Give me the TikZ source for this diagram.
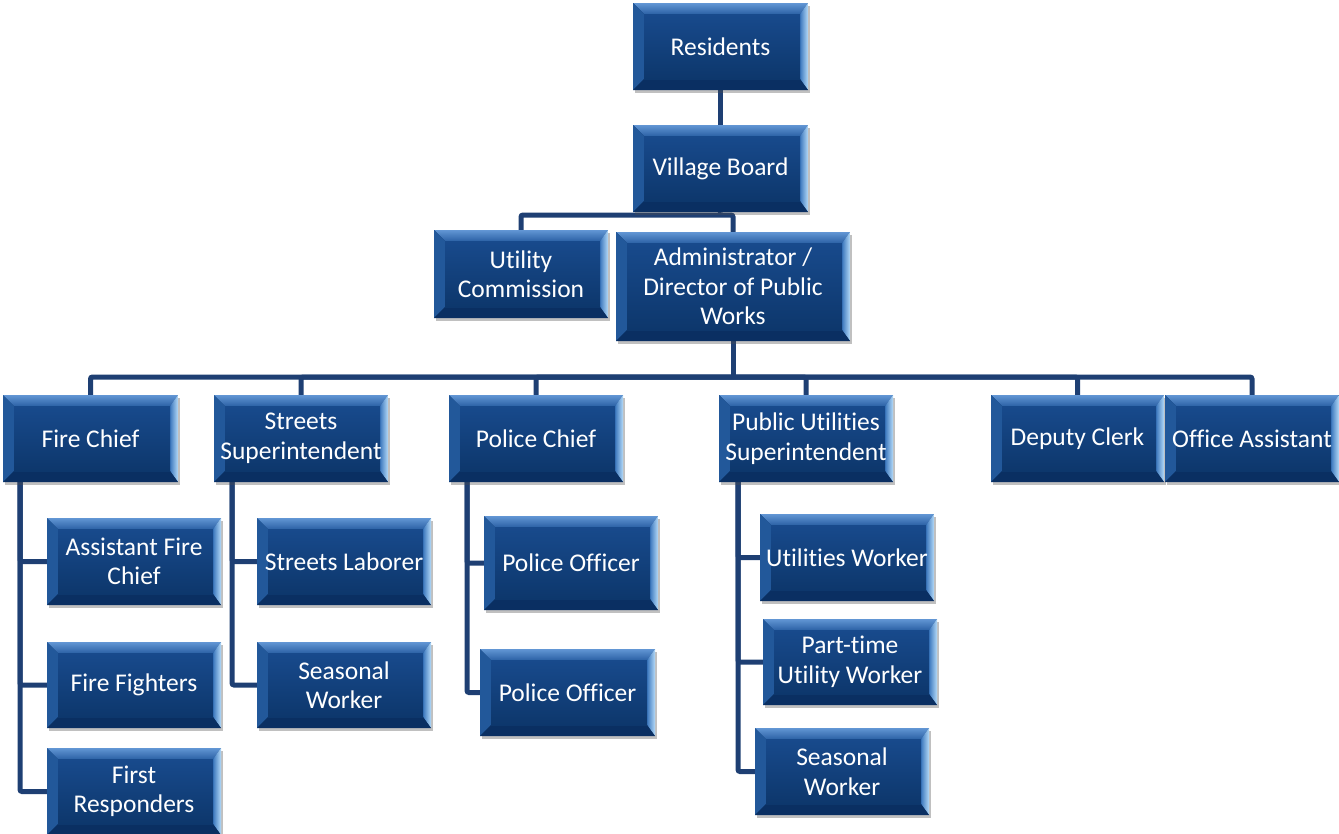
\documentclass[tikz,border=0pt]{standalone}
\usepackage{fontspec}
\setmainfont{Carlito}[Ligatures={NoCommon}]
\usetikzlibrary{shadows,backgrounds,calc}
\definecolor{conncol}{HTML}{1E3F73}
\definecolor{facetop}{HTML}{184A8C}
\definecolor{facebot}{HTML}{0D376C}
\definecolor{bvtopA}{HTML}{6296D4}
\definecolor{bvtopB}{HTML}{2C62A6}
\definecolor{bvleft}{HTML}{22589A}
\definecolor{bvrightA}{HTML}{3C78BE}
\definecolor{bvrightB}{HTML}{B4DAF8}
\definecolor{bvbot}{HTML}{0A2F62}
\newcommand\boxfont{\fontsize{25.5}{29.5}\selectfont}
\tikzset{
  bevelbox/.style={
    inner sep=0pt, align=center, text=white, font=\boxfont,
    drop shadow={shadow xshift=2pt, shadow yshift=-3pt, opacity=0.35, fill=black!70},
    path picture={
      \fill[bvbot] (path picture bounding box.south west) rectangle (path picture bounding box.north east);
      % top bevel
      \shade[top color=bvtopA, bottom color=bvtopB]
        (path picture bounding box.north west) -- (path picture bounding box.north east)
        -- ([shift={(-8pt,-11pt)}]path picture bounding box.north east)
        -- ([shift={(11pt,-11pt)}]path picture bounding box.north west) -- cycle;
      % left bevel
      \fill[bvleft]
        (path picture bounding box.north west)
        -- ([shift={(11pt,-11pt)}]path picture bounding box.north west)
        -- ([shift={(11pt,11pt)}]path picture bounding box.south west)
        -- (path picture bounding box.south west) -- cycle;
      % right bevel
      \shade[left color=bvrightA, right color=bvrightB]
        (path picture bounding box.north east) -- (path picture bounding box.south east)
        -- ([shift={(-8pt,11pt)}]path picture bounding box.south east)
        -- ([shift={(-8pt,-11pt)}]path picture bounding box.north east) -- cycle;
      % bottom bevel
      \fill[bvbot]
        (path picture bounding box.south west)
        -- ([shift={(11pt,11pt)}]path picture bounding box.south west)
        -- ([shift={(-8pt,11pt)}]path picture bounding box.south east)
        -- (path picture bounding box.south east) -- cycle;
      % face
      \shade[top color=facetop, bottom color=facebot]
        ([shift={(11pt,-11pt)}]path picture bounding box.north west)
        rectangle ([shift={(-8pt,11pt)}]path picture bounding box.south east);
    }},
  conn/.style={draw=conncol, line width=5pt, rounded corners=2pt}
}
% \bx{name}{x1}{y1}{x2}{y2}{text}
\newcommand\bx[6]{%
  \pgfmathsetmacro\bxw{#4-#2}\pgfmathsetmacro\bxh{#5-#3}%
  \node[bevelbox, minimum width=\bxw pt, minimum height=\bxh pt]
    (#1) at ({(#2+#4)/2},{(#3+#5)/2}) {#6};}
\begin{document}
\begin{tikzpicture}[x=1pt,y=-1pt]
\useasboundingbox (0,0) rectangle (1339,833);

\bx{res}{633}{3}{808}{90}{Residents}
\bx{vb}{633}{125}{808}{212}{Village Board}
\bx{uc}{434}{230}{608}{318}{Utility\\Commission}
\bx{adm}{616}{232}{850}{341}{Administrator /\\Director of Public\\Works}

\bx{fire}{3}{395}{178}{482}{Fire Chief}
\bx{streets}{214}{395}{388}{482}{Streets\\Superintendent}
\bx{police}{449}{395}{623}{482}{Police Chief}
\bx{pu}{719}{395}{893}{482}{Public Utilities\\Superintendent}
\bx{deputy}{991}{395}{1164}{482}{Deputy Clerk}
\bx{office}{1165}{395}{1339}{482}{Office Assistant}

\bx{afc}{47}{518}{221}{605}{Assistant Fire\\Chief}
\bx{ff}{47}{642}{221}{728}{Fire Fighters}
\bx{fr}{47}{748}{221}{835}{First\\Responders}

\bx{sl}{257}{518}{431}{605}{Streets Laborer}
\bx{sws}{257}{642}{431}{728}{Seasonal\\Worker}

\bx{po1}{484}{516}{658}{610}{Police Officer}
\bx{po2}{480}{649}{655}{736}{Police Officer}

\bx{uw}{760}{514}{934}{601}{Utilities Worker}
\bx{ptw}{763}{619}{937}{705}{Part-time\\Utility Worker}
\bx{swu}{755}{728}{929}{815}{Seasonal\\Worker}

\begin{scope}[on background layer]
  \fill[white] (0,0) rectangle (1339,833);
  % board level
  \draw[conn] (res.south) -- (vb.north);
  \coordinate (vbhub) at (720,215);
  \draw[conn] (vb.south) -- (vbhub);
  \draw[conn] (uc.north) |- (vbhub) -| (adm.north);
  % department bus
  \coordinate (bus) at (733,377);
  \draw[conn] (adm.south) -- (bus);
  \draw[conn] (fire.north) |- (bus) -| (office.north);
  \foreach \d in {streets,police,pu,deputy}
    \draw[conn] (\d.north) |- (bus);
  % fire department
  \coordinate (fx) at (20,482);
  \foreach \d in {afc,ff,fr} \draw[conn] (fx) |- (\d.west);
  % streets
  \coordinate (sx) at (232,482);
  \foreach \d in {sl,sws} \draw[conn] (sx) |- (\d.west);
  % police
  \coordinate (px) at (467,482);
  \foreach \d in {po1,po2} \draw[conn] (px) |- (\d.west);
  % public utilities
  \coordinate (ux) at (738,482);
  \foreach \d in {uw,ptw,swu} \draw[conn] (ux) |- (\d.west);
\end{scope}
\end{tikzpicture}
\end{document}
